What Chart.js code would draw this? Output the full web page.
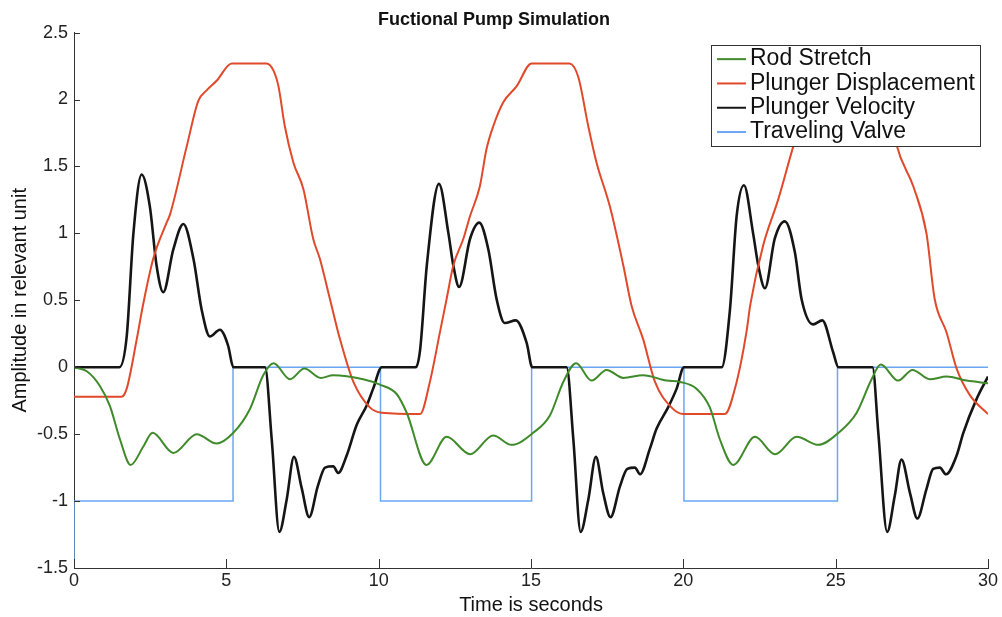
<!DOCTYPE html>
<html>
<head>
<meta charset="utf-8">
<title>Fuctional Pump Simulation</title>
<script src="https://cdn.jsdelivr.net/npm/chart.js@4.4.1/dist/chart.umd.min.js"></script>
<style>
  html, body { margin: 0; padding: 0; background: #fff; }
  canvas { display: block; }
</style>
</head>
<body>
<canvas id="pump" width="1002" height="617"></canvas>
<script>
// axis ticks
const xTicks = [0, 5, 10, 15, 20, 25, 30];
const yTicks = [-1.5, -1, -0.5, 0, 0.5, 1, 1.5, 2, 2.5];

// Rod Stretch (green)
const rodT = [0, 0.42, 0.85, 1.18, 1.51, 1.86, 2.28, 2.58, 3.26, 4.03, 4.68, 5.23, 5.78, 6.21, 6.55, 7.09, 7.56, 8.1, 8.5, 9.49,
  10.04, 10.59, 10.92, 11.57, 12.23, 13.0, 13.76, 14.36, 15.07, 15.62, 16.06, 16.48, 16.99, 17.48, 18.03, 18.68, 19.45,
  19.89, 20.43, 20.87, 21.2, 21.64, 22.35, 23.01, 23.72, 24.43, 25.09, 25.69, 26.18, 26.48, 27.05, 27.52, 28.09, 28.64, 29.3, 30];
const rodV = [0, -0.03, -0.14, -0.29, -0.54, -0.73, -0.59, -0.49, -0.64, -0.5, -0.57, -0.49, -0.31, -0.06, 0.03, -0.09, -0.01, -0.08, -0.06, -0.09,
  -0.13, -0.2, -0.34, -0.73, -0.52, -0.65, -0.51, -0.58, -0.49, -0.36, -0.11, 0.03, -0.1, -0.02, -0.08, -0.06, -0.1,
  -0.11, -0.16, -0.3, -0.54, -0.73, -0.52, -0.65, -0.52, -0.58, -0.49, -0.34, -0.09, 0.02, -0.1, -0.02, -0.09, -0.07, -0.1, -0.12];

// Plunger Displacement (orange)
const dispT = [0, 1.56, 1.73, 2.06, 2.27, 2.6, 3.04, 3.15, 3.7, 4.08, 4.36, 4.68, 5.18, 6.32, 6.54, 6.71, 6.92, 7.2, 7.53, 7.85, 8.07, 8.4, 8.73, 9.17, 9.71, 10.1,
  11.36, 11.68, 12.01, 12.23, 12.45, 12.78, 13.0, 13.32, 13.54, 13.76, 14.09, 14.53, 15.02, 16.26, 16.55, 16.88, 17.15, 17.59, 18.03, 18.3, 18.68, 19.07, 19.61, 20.0,
  21.36, 21.75, 22.07, 22.2, 22.62, 23.11, 23.61, 24.1, 24.5, 25.05, 26.3, 26.55, 26.85, 27.0, 27.55, 27.98, 28.25, 28.64, 28.97, 29.41, 30];
const dispV = [-0.22, -0.22, -0.16, 0.21, 0.47, 0.81, 1.08, 1.14, 1.65, 1.99, 2.07, 2.14, 2.27, 2.27, 2.22, 2.1, 1.8, 1.53, 1.33, 0.96, 0.81, 0.51, 0.21, -0.11, -0.3, -0.34,
  -0.35, -0.11, 0.26, 0.51, 0.76, 0.96, 1.13, 1.35, 1.63, 1.8, 1.98, 2.1, 2.27, 2.27, 2.17, 1.8, 1.53, 1.2, 0.76, 0.46, 0.21, -0.11, -0.3, -0.35,
  -0.35, -0.11, 0.26, 0.47, 0.91, 1.25, 1.65, 1.99, 2.12, 2.27, 2.27, 2.17, 1.85, 1.66, 1.35, 1.0, 0.51, 0.26, -0.01, -0.21, -0.35];

// Plunger Velocity (black)
const velT = [0, 1.49, 1.73, 1.95, 2.22, 2.49, 2.71, 2.93, 3.26, 3.59, 3.92, 4.19, 4.46, 4.79, 5.06, 5.23, 6.27, 6.49, 6.74, 6.98, 7.22, 7.47, 7.72, 8.0, 8.24, 8.51, 8.67, 8.95, 9.28, 9.6, 9.82, 10.1,
  11.22, 11.36, 11.58, 11.98, 12.29, 12.45, 12.64, 13.0, 13.3, 13.6, 13.87, 14.14, 14.5, 14.86, 15.04, 16.17, 16.39, 16.63, 16.88, 17.13, 17.37, 17.61, 17.92, 18.16, 18.41, 18.58, 18.9, 19.12, 19.5, 19.78, 20.02,
  21.26, 21.53, 21.75, 21.99, 22.29, 22.46, 22.68, 23.0, 23.33, 23.66, 23.88, 24.26, 24.56, 24.92, 25.09, 26.21, 26.4, 26.69, 26.94, 27.16, 27.44, 27.68, 27.98, 28.2, 28.42, 28.62, 28.97, 29.19, 29.62, 30];
const velV = [0, 0, 0.23, 1.0, 1.44, 1.2, 0.76, 0.56, 0.88, 1.07, 0.81, 0.43, 0.23, 0.28, 0.16, 0, 0, -0.54, -1.23, -0.99, -0.67, -0.9, -1.12, -0.89, -0.75, -0.74, -0.79, -0.66, -0.43, -0.29, -0.16, 0,
  0, 0.13, 0.76, 1.37, 1.0, 0.76, 0.6, 0.96, 1.08, 0.88, 0.51, 0.33, 0.35, 0.18, 0, 0, -0.54, -1.23, -0.99, -0.67, -0.94, -1.12, -0.89, -0.76, -0.75, -0.8, -0.61, -0.46, -0.3, -0.16, 0,
  0, 0.43, 1.13, 1.36, 1.0, 0.76, 0.59, 0.96, 1.09, 0.86, 0.51, 0.32, 0.35, 0.11, 0, 0, -0.49, -1.23, -0.96, -0.69, -0.94, -1.13, -0.91, -0.76, -0.75, -0.8, -0.66, -0.49, -0.24, -0.07];

// Traveling Valve (blue)
const valveT = [0, 0, 5.22, 5.22, 10.06, 10.06, 15.02, 15.02, 20.02, 20.02, 25.06, 25.06, 30];
const valveV = [-1.5, -1, -1, 0, 0, -1, -1, 0, 0, -1, -1, 0, 0];

const toPoints = (ts, vs) => ts.map((t, i) => ({ x: t, y: vs[i] }));

const FONT = '"Liberation Sans", Arial, Helvetica, sans-serif';

// MATLAB style: ticks pointing into the plot
const innerTicks = {
  id: 'innerTicks',
  afterDraw(chart) {
    const { ctx, chartArea, scales } = chart;
    ctx.save();
    ctx.strokeStyle = '#333';
    ctx.lineWidth = 1;
    ctx.beginPath();
    xTicks.forEach(v => {
      const px = Math.round(scales.x.getPixelForValue(v)) + 0.5;
      ctx.moveTo(px, chartArea.bottom);
      ctx.lineTo(px, chartArea.bottom - 9);
    });
    yTicks.forEach(v => {
      const py = Math.round(scales.y.getPixelForValue(v)) + 0.5;
      ctx.moveTo(chartArea.left, py);
      ctx.lineTo(chartArea.left + 6, py);
    });
    ctx.stroke();
    ctx.restore();
  }
};

// boxed legend with white background, drawn over the lines
const boxLegend = {
  id: 'boxLegend',
  afterDraw(chart) {
    const { ctx, chartArea } = chart;
    const items = chart.data.datasets;
    ctx.save();
    ctx.font = '23px ' + FONT;
    const rowH = 24.3, lineW = 29, pad = 6, gap = 4;
    const textW = Math.max(...items.map(d => ctx.measureText(d.label).width));
    const w = Math.round(pad + lineW + gap + textW + 5);
    const h = Math.round(items.length * rowH + 4);
    const right = chartArea.right - 8;
    const left = Math.round(right - w);
    const top = Math.round(chartArea.top + 12);
    ctx.fillStyle = '#fff';
    ctx.fillRect(left, top, w, h);
    ctx.strokeStyle = '#333';
    ctx.lineWidth = 1;
    ctx.strokeRect(left + 0.5, top + 0.5, w, h);
    items.forEach((d, i) => {
      const y = top + 2 + rowH * (i + 0.5);
      ctx.strokeStyle = d.borderColor;
      ctx.lineWidth = 2;
      ctx.beginPath();
      ctx.moveTo(left + pad, y);
      ctx.lineTo(left + pad + lineW, y);
      ctx.stroke();
      ctx.fillStyle = '#111';
      ctx.textBaseline = 'middle';
      ctx.textAlign = 'left';
      ctx.fillText(d.label, left + pad + lineW + gap, y);
    });
    ctx.restore();
  }
};

const ctx = document.getElementById('pump').getContext('2d');
new Chart(ctx, {
  type: 'scatter',
  data: {
    datasets: [
      { label: 'Rod Stretch', data: toPoints(rodT, rodV), borderColor: '#3f8a2a', borderWidth: 2, order: 1 },
      { label: 'Plunger Displacement', data: toPoints(dispT, dispV), borderColor: '#e0492a', borderWidth: 2, order: 2 },
      { label: 'Plunger Velocity', data: toPoints(velT, velV), borderColor: '#151515', borderWidth: 2.6, order: 3 },
      { label: 'Traveling Valve', data: toPoints(valveT, valveV), borderColor: '#6aa6f2', borderWidth: 1.5, order: 4, tension: 0, cubicInterpolationMode: 'default' }
    ].map(ds => Object.assign({ showLine: true, pointRadius: 0, fill: false, cubicInterpolationMode: 'monotone' }, ds))
  },
  options: {
    responsive: false,
    animation: false,
    layout: { padding: { left: 0, right: 14, top: 0, bottom: 0 } },
    plugins: {
      legend: { display: false },
      tooltip: { enabled: false },
      title: {
        display: true,
        text: 'Fuctional Pump Simulation',
        color: '#111',
        font: { family: FONT, size: 18, weight: 'bold' },
        padding: { top: 9, bottom: 2 }
      }
    },
    scales: {
      x: {
        type: 'linear',
        min: 0,
        max: 30,
        afterBuildTicks: s => { s.ticks = xTicks.map(v => ({ value: v })); },
        afterFit: s => { s.height = 49; },
        ticks: { color: '#222', padding: 2, font: { family: FONT, size: 18 }, callback: v => String(v) },
        grid: { drawOnChartArea: false, drawTicks: false },
        border: { color: '#333', width: 1 },
        title: { display: true, text: 'Time is seconds', color: '#111', font: { family: FONT, size: 20 }, padding: { top: 0, bottom: 0 } }
      },
      y: {
        type: 'linear',
        min: -1.5,
        max: 2.5,
        afterBuildTicks: s => { s.ticks = yTicks.map(v => ({ value: v })); },
        afterFit: s => { s.width = 74; },
        ticks: { color: '#222', padding: 6, font: { family: FONT, size: 18 }, callback: v => String(v) },
        grid: { drawOnChartArea: false, drawTicks: false },
        border: { color: '#333', width: 1 },
        title: { display: true, text: 'Amplitude in relevant unit', color: '#111', font: { family: FONT, size: 20 }, padding: { top: 8, bottom: 0 } }
      }
    }
  },
  plugins: [innerTicks, boxLegend]
});
</script>
</body>
</html>
